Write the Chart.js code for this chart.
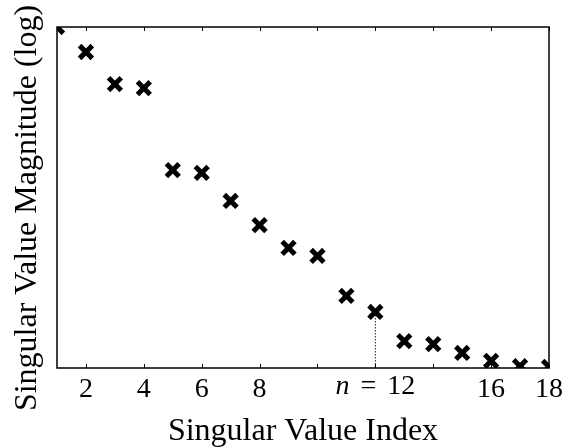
<!DOCTYPE html>
<html>
<head>
<meta charset="utf-8">
<script src="https://cdn.jsdelivr.net/npm/chart.js@4.4.1/dist/chart.umd.min.js"></script>
<style>
  html, body { margin: 0; padding: 0; background: #fff; }
  #wrap { width: 568px; height: 448px; }
</style>
</head>
<body>
<div id="wrap"><canvas id="chart"></canvas></div>
<script>
// singular values, largest first (log axis)
const indices = [1, 2, 3, 4, 5, 6, 7, 8, 9, 10, 11, 12, 13, 14, 15, 16, 17, 18];
const magnitudes = [1.0, 0.509, 0.214, 0.192, 0.0210, 0.0194, 0.0091, 0.00475, 0.00256,
  0.00206, 0.00070, 0.000454, 0.000207, 0.000191, 0.000150, 0.000121, 0.000105, 0.000103];
const tickValues = [2, 4, 6, 8, 10, 12, 14, 16, 18];
const tickLabels = ['2', '4', '6', '8', '', '', '', '16', '18'];
const cutoff = 12;
const yMin = 1e-4;
const yMax = 1;
const yTitle = 'Singular Value Magnitude (log)';

const serif = "'Liberation Serif', 'DejaVu Serif', serif";
const tickFont = { family: serif, size: 28 };
const titleSize = 32;
const tickPad = 5;

// frame, inward tick marks, the "n = 12" label and the y title
const frame = {
  id: 'frame',
  afterDatasetsDraw(chart) {
    const { ctx, chartArea: a, scales: { x } } = chart;
    ctx.save();
    ctx.strokeStyle = '#000';
    ctx.lineWidth = 1.5;
    ctx.strokeRect(a.left, a.top, a.right - a.left, a.bottom - a.top);
    ctx.lineWidth = 1;
    tickValues.forEach(v => {
      const px = Math.round(x.getPixelForValue(v)) + 0.5;
      ctx.beginPath();
      ctx.moveTo(px, a.bottom);
      ctx.lineTo(px, a.bottom - 4);
      ctx.moveTo(px, a.top);
      ctx.lineTo(px, a.top + 4);
      ctx.stroke();
    });

    // n = 12, centred under its tick
    const px = x.getPixelForValue(cutoff);
    const ty = x.top + tickPad;
    const gap = 11;
    const upright = `${tickFont.size}px ${serif}`;
    const italic = `italic ${tickFont.size}px ${serif}`;
    ctx.fillStyle = '#000';
    ctx.textBaseline = 'top';
    ctx.textAlign = 'left';
    ctx.font = italic;
    const nW = ctx.measureText('n').width;
    ctx.font = upright;
    const eqW = ctx.measureText('=').width;
    const numW = ctx.measureText(String(cutoff)).width;
    let cx = px - (nW + eqW + numW + 2 * gap) / 2;
    ctx.font = italic;
    ctx.fillText('n', cx, ty);
    cx += nW + gap;
    ctx.font = upright;
    ctx.fillText('=', cx, ty);
    cx += eqW + gap;
    ctx.fillText(String(cutoff), cx, ty);

    // rotated y title
    ctx.translate(36, 208);
    ctx.rotate(-Math.PI / 2);
    ctx.font = `${titleSize}px ${serif}`;
    ctx.textAlign = 'center';
    ctx.textBaseline = 'alphabetic';
    ctx.fillText(yTitle, 0, 0);
    ctx.restore();
  }
};

new Chart(document.getElementById('chart'), {
  type: 'scatter',
  data: {
    datasets: [
      {
        data: indices.map((i, k) => ({ x: i, y: magnitudes[k] })),
        pointStyle: 'crossRot',
        pointRadius: 9,
        pointBorderWidth: 5,
        borderColor: '#000',
        backgroundColor: '#000',
        clip: 0
      },
      {
        type: 'line',
        data: [{ x: cutoff, y: magnitudes[cutoff - 1] }, { x: cutoff, y: yMin }],
        borderColor: '#222',
        borderWidth: 1,
        borderDash: [1.5, 1.5],
        pointRadius: 0,
        clip: 0
      }
    ]
  },
  options: {
    responsive: true,
    maintainAspectRatio: false,
    animation: false,
    events: [],
    layout: { padding: { top: 27, right: 15, left: 0, bottom: 0 } },
    plugins: { legend: { display: false }, tooltip: { enabled: false } },
    scales: {
      x: {
        type: 'linear',
        min: 1,
        max: 18,
        grid: { display: false, drawTicks: false },
        border: { display: false },
        afterBuildTicks: s => { s.ticks = tickValues.map(v => ({ value: v })); },
        afterFit: s => { s.height = 80; },
        ticks: {
          autoSkip: false,
          maxRotation: 0,
          padding: tickPad,
          color: '#000',
          font: tickFont,
          callback: v => tickLabels[tickValues.indexOf(v)] ?? ''
        },
        title: {
          display: true,
          text: 'Singular Value Index',
          color: '#000',
          font: { family: serif, size: titleSize },
          padding: { bottom: -3 }
        }
      },
      y: {
        type: 'logarithmic',
        min: yMin,
        max: yMax,
        grid: { display: false, drawTicks: false },
        border: { display: false },
        ticks: { display: false },
        afterFit: s => { s.width = 57; }
      }
    }
  },
  plugins: [frame]
});
</script>
</body>
</html>
